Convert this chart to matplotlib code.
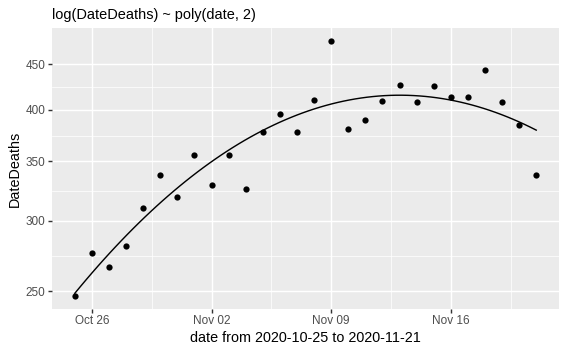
import numpy as np
import pandas as pd
import matplotlib
matplotlib.use("Agg")
import matplotlib.pyplot as plt
import matplotlib.dates as mdates
from matplotlib.ticker import FixedLocator, FixedFormatter, NullFormatter

# Daily deaths, 2020-10-25 .. 2020-11-21
DATES = pd.date_range("2020-10-25", "2020-11-21", freq="D")
DEATHS = [247, 276, 266, 281, 310, 338, 319, 356, 329, 356,
          326, 378, 396, 378, 410, 478, 381, 390, 409, 427,
          408, 426, 413, 413, 443, 408, 385, 338]
Y_TICKS = [250, 300, 350, 400, 450]
X_TICKS = pd.to_datetime(["2020-10-26", "2020-11-02", "2020-11-09", "2020-11-16"])

plt.rcParams["font.family"] = ["Liberation Sans", "DejaVu Sans"]

W, H, DPI = 567, 350, 96
fig = plt.figure(figsize=(W / DPI, H / DPI), dpi=DPI)
left, right, top, bottom = 51.7, 559.3, 28.3, 308.7
ax = fig.add_axes([left / W, 1 - bottom / H, (right - left) / W, (bottom - top) / H])

xnum = mdates.date2num(DATES)
deaths = np.array(DEATHS, dtype=float)

# quadratic fit of log(deaths) against date, as geom_smooth does on a log scale
x0 = xnum[0]
coef = np.polyfit(xnum - x0, np.log(deaths), 2)
xs = np.linspace(xnum[0], xnum[-1], 80)
ys = np.exp(np.polyval(coef, xs - x0))

ax.set_facecolor("#EBEBEB")
for s in ax.spines.values():
    s.set_visible(False)

ax.set_yscale("log")
ly = np.log(deaths)
pad_y = 0.05 * (ly.max() - ly.min())
ax.set_ylim(np.exp(ly.min() - pad_y), np.exp(ly.max() + pad_y))
pad_x = 0.05 * (xnum[-1] - xnum[0])
ax.set_xlim(xnum[0] - pad_x, xnum[-1] + pad_x)

ax.yaxis.set_major_locator(FixedLocator(Y_TICKS))
ax.yaxis.set_major_formatter(FixedFormatter([str(v) for v in Y_TICKS]))
ymin_log = [np.sqrt(a * b) for a, b in zip(Y_TICKS[:-1], Y_TICKS[1:])]
ax.yaxis.set_minor_locator(FixedLocator(ymin_log))
ax.yaxis.set_minor_formatter(NullFormatter())

xt = mdates.date2num(X_TICKS)
ax.xaxis.set_major_locator(FixedLocator(xt))
ax.xaxis.set_major_formatter(mdates.DateFormatter("%b %d"))
ax.xaxis.set_minor_locator(FixedLocator(list(xt + 3.5)))
ax.xaxis.set_minor_formatter(NullFormatter())

ax.grid(True, which="major", color="white", linewidth=1.07)
ax.grid(True, which="minor", color="white", linewidth=0.53)
ax.set_axisbelow(True)

ax.tick_params(which="major", length=2.75, width=1.07, color="#333333",
               labelcolor="#4D4D4D", labelsize=8.8, pad=2.2)
ax.tick_params(which="minor", length=0)

ax.plot(xs, ys, color="black", linewidth=1.07, zorder=3)
ax.scatter(xnum, deaths, s=22, color="black", zorder=4, linewidths=0)

ax.set_xlabel("date from 2020-10-25 to 2020-11-21", fontsize=10.8, labelpad=2.75)
ax.set_ylabel("DateDeaths", fontsize=10.8, labelpad=2.75)
fig.text(left / W, 1 - 19 / H, "log(DateDeaths) ~ poly(date, 2)", fontsize=10.9,
         ha="left", va="baseline")

fig.savefig("out.png", dpi=DPI)
